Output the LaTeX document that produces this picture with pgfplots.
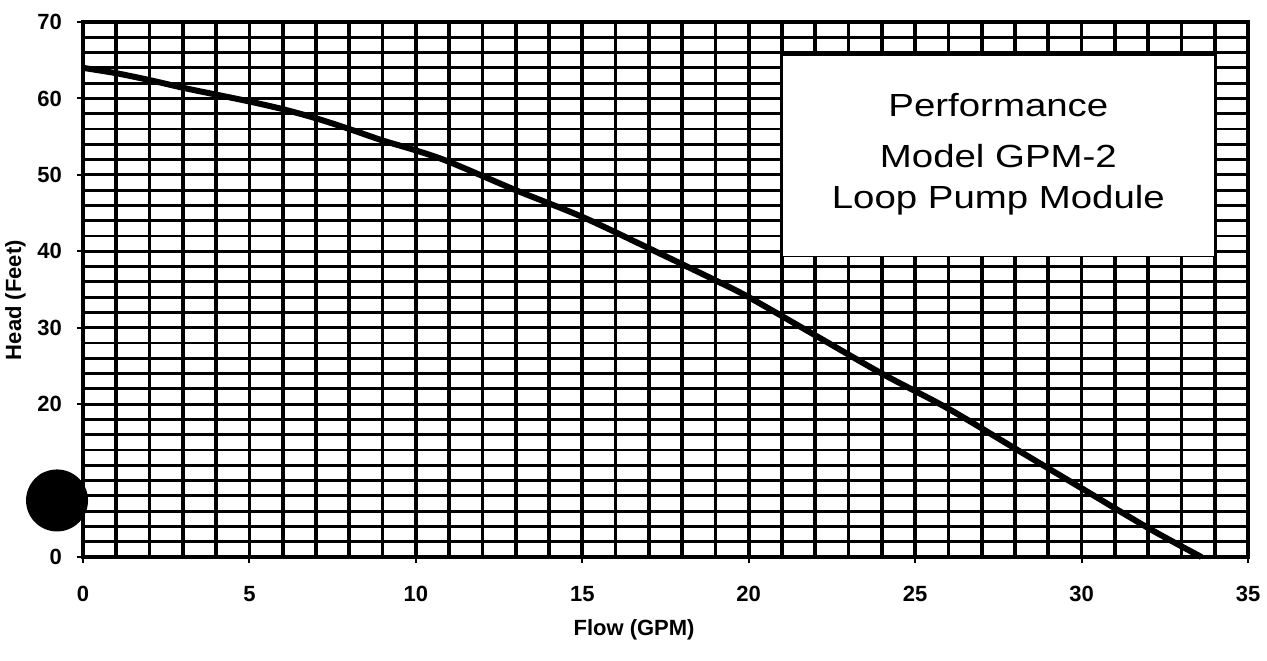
\documentclass[border=0pt]{standalone}
\usepackage{pgfplots}
\pgfplotsset{compat=1.18}
\usepackage{fontspec}
\setmainfont{Liberation Sans}
\usepackage{graphicx}
\begin{document}
\begin{tikzpicture}
\begin{axis}[
  at={(0,0)}, anchor=south west,
  scale only axis, width=582.5pt, height=267.5pt,
  xmin=0, xmax=35, ymin=0, ymax=70,
  xtick distance=5, ytick distance=10,
  minor x tick num=4, minor y tick num=4,
  grid=both,
  major x grid style={black, line width=1.8pt},
  minor x grid style={black, line width=1.8pt},
  major y grid style={black, line width=1.4pt},
  minor y grid style={black, line width=1.4pt},
  axis line style={black, line width=1.8pt},
  tick pos=left,
  tick align=outside, major tick length=3pt, minor tick length=0pt,
  tick style={black, line width=1pt},
  /pgf/number format/assume math mode=true,
  ticklabel style={font=\fontsize{11}{13}\selectfont\bfseries},
  xticklabel style={yshift=-8pt},
  yticklabel style={xshift=-4pt},
  xlabel={Flow (GPM)}, ylabel={Head (Feet)},
  label style={font=\fontsize{11}{13}\selectfont\bfseries},
  xlabel style={at={(axis description cs:0.473,-0.136)}, anchor=center},
  ylabel style={at={(axis description cs:-0.058,0.48)}, anchor=center},
  clip=false,
]
\addplot[black, line width=3pt, smooth] coordinates {
 (0,64) (1,63.3) (2,62.4) (3,61.4) (4,60.5) (5,59.6) (6,58.6) (7,57.4)
 (8,56.0) (9,54.5) (10,53.2) (11,51.7) (13,48.0) (15,44.5) (17,40.4)
 (19,36.2) (20,34.0) (22,29.0) (24,24.0) (26,19.4) (28,14.2) (30,9.0)
 (32,3.8) (33.6,0)
};
\draw[black, line width=0.8pt, fill=white] (axis cs:21,39.3) rectangle (axis cs:34,65.7);
\node[anchor=base, font=\fontsize{16}{18}\selectfont] at (axis cs:27.5,57.6) {\scalebox{1.2}[1]{Performance}};
\node[anchor=base, font=\fontsize{16}{18}\selectfont] at (axis cs:27.5,50.9) {\scalebox{1.2}[1]{Model GPM-2}};
\node[anchor=base, font=\fontsize{16}{18}\selectfont] at (axis cs:27.5,45.65) {\scalebox{1.2}[1]{Loop Pump Module}};
\coordinate (dot) at (axis cs:-0.78,7.4);
\end{axis}
\fill[black] (dot) circle[radius=15.5pt];
\pgfresetboundingbox
\path[use as bounding box] (-41.5pt,-51.5pt) rectangle (592pt,278.5pt);
\end{tikzpicture}
\end{document}
